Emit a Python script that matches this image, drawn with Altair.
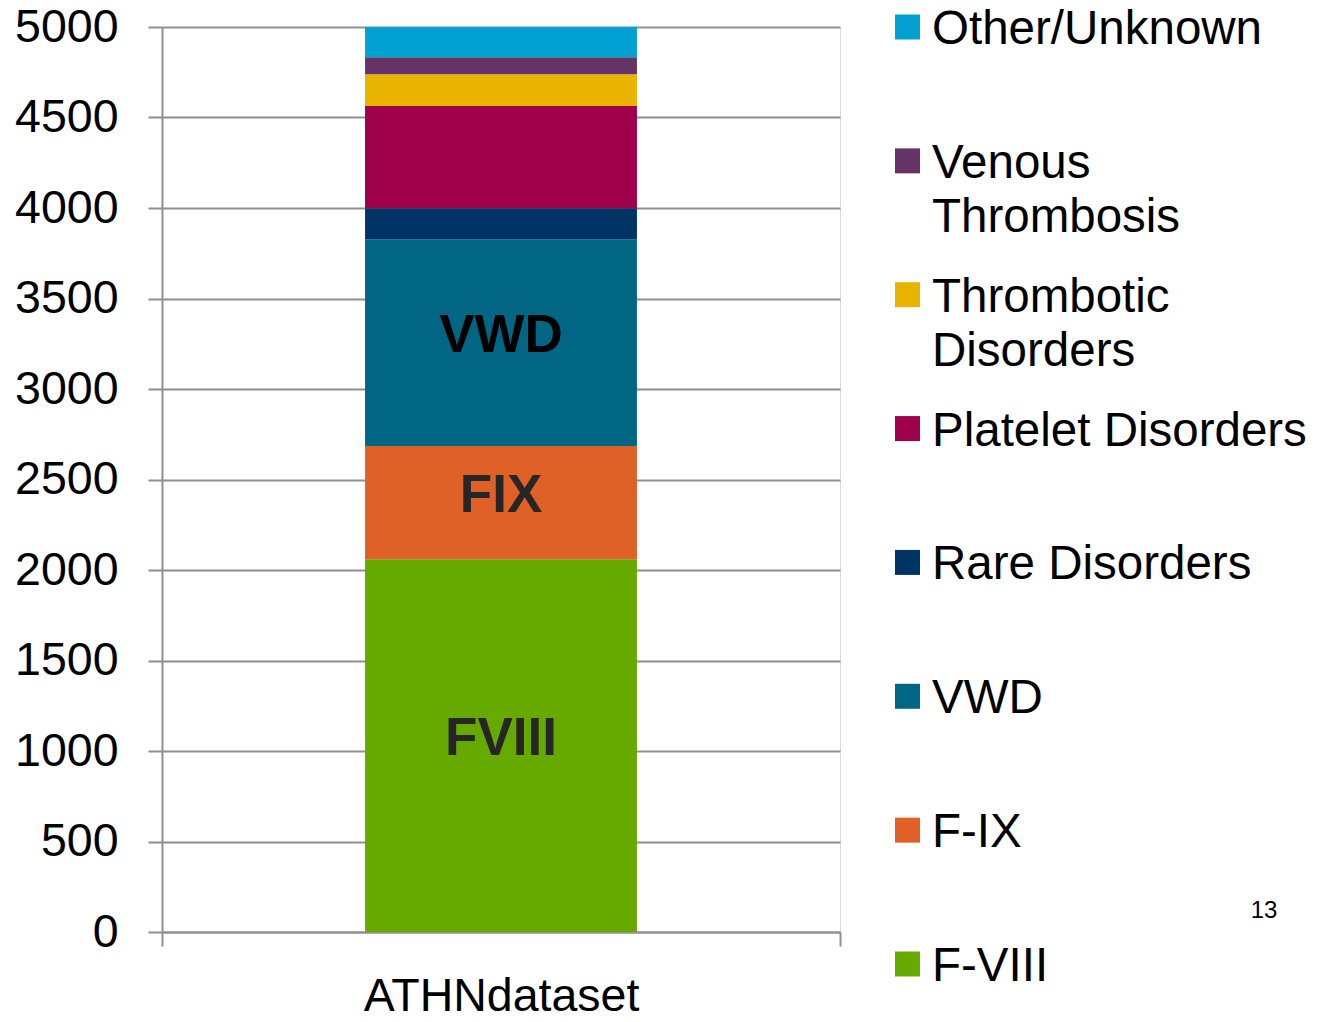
import altair as alt
import pandas as pd

# ---- data ----
dataset = ["ATHNdataset"]
categories = ["F-VIII", "F-IX", "VWD", "Rare Disorders", "Platelet Disorders",
              "Thrombotic Disorders", "Venous Thrombosis", "Other/Unknown"]
values = [2059, 626, 1142, 171, 566, 175, 94, 167]
colors = ["#66AA00", "#E06127", "#006683", "#003366", "#9E004A",
          "#E8B400", "#663366", "#00A0D2"]
segment_labels = ["FVIII", "FIX", "VWD", "", "", "", "", ""]
segment_label_colors = ["#262626", "#262626", "#000000", "#000000", "#000000",
                        "#000000", "#000000", "#000000"]
legend_line1 = ["F-VIII", "F-IX", "VWD", "Rare Disorders", "Platelet Disorders",
                "Thrombotic", "Venous", "Other/Unknown"]
legend_line2 = ["", "", "", "", "", "Disorders", "Thrombosis", ""]
y_ticks = [0, 500, 1000, 1500, 2000, 2500, 3000, 3500, 4000, 4500, 5000]
slide_number = ["13"]

FONT = "Liberation Sans"
GRID = "#8F8F8F"

df = pd.DataFrame({
    "dataset": dataset * len(categories),
    "category": categories,
    "value": values,
    "idx": list(range(len(categories))),
    "seg": segment_labels,
    "segcolor": segment_label_colors,
    "l1": legend_line1,
    "l2": legend_line2,
})

color_scale = alt.Scale(domain=categories, range=colors)
y_scale = alt.Scale(domain=[0, 5000], nice=False)
x_enc = alt.X("dataset:N", scale=alt.Scale(paddingInner=0, paddingOuter=0),
              axis=alt.Axis(title=None, labelAngle=0, tickBand="extent", tickSize=14,
                            tickColor=GRID, tickWidth=2, domainColor=GRID, domainWidth=2,
                            labelFontSize=46.5, labelColor="#000000", labelFont=FONT,
                            labelPadding=27, labelLimit=0))

base = alt.Chart(df).transform_stack(
    stack="value", groupby=["dataset"], as_=["y0", "y1"],
    sort=[alt.SortField("idx", order="ascending")]
).transform_calculate(mid="(datum.y0 + datum.y1) / 2")

y_axis = alt.Axis(title=None, values=y_ticks, format="d", grid=True, gridColor=GRID,
                  gridWidth=2, tickSize=14, tickColor=GRID, tickWidth=2, domainColor=GRID,
                  domainWidth=2, labelFontSize=46.5, labelColor="#000000",
                  labelFont=FONT, labelPadding=30, labelLimit=0)

bars = base.mark_bar(width=alt.RelativeBandSize(0.401)).encode(
    x=x_enc,
    y=alt.Y("y0:Q", scale=y_scale, axis=y_axis),
    y2="y1:Q",
    color=alt.Color("category:N", scale=color_scale, legend=None),
)

seg_text = base.mark_text(font=FONT, fontWeight="bold", fontSize=53, baseline="middle",
                          align="center", dy=-7).encode(
    x=alt.X("dataset:N"),
    y=alt.Y("mid:Q", scale=y_scale, axis=y_axis),
    text="seg:N",
    color=alt.Color("segcolor:N", scale=None),
)

main = alt.layer(bars, seg_text)

legend_order = categories[::-1]
leg_y = alt.Y("category:N", scale=alt.Scale(domain=legend_order, range=[0, 937], padding=0),
              axis=None)
leg_base = alt.Chart(df)
leg_sq = leg_base.mark_square(size=625, opacity=1).encode(
    x=alt.value(745.5), y=leg_y,
    color=alt.Color("category:N", scale=color_scale, legend=None),
)
leg_t1 = leg_base.mark_text(font=FONT, fontSize=47.5, align="left", baseline="middle",
                            color="#000000", dy=3).encode(
    x=alt.value(770), y=leg_y, text="l1:N")
leg_t2 = leg_base.mark_text(font=FONT, fontSize=47.5, align="left", baseline="middle",
                            color="#000000", dy=57).encode(
    x=alt.value(770), y=leg_y, text="l2:N")
legend = alt.layer(leg_sq, leg_t1, leg_t2)

num = alt.Chart(pd.DataFrame({"t": slide_number})).mark_text(
    font=FONT, fontSize=24, align="center", baseline="middle", color="#000000"
).encode(text="t:N", x=alt.value(1102), y=alt.value(883.5))

chart = alt.layer(main, legend, num).resolve_scale(y="independent").properties(
    width=678, height=905,
    autosize=alt.AutoSizeParams(type="none"),
    padding={"left": 154, "top": 19, "right": 480, "bottom": 82},
).configure_view(strokeWidth=0, stroke="transparent").configure(font=FONT)

chart.save("out.html", embed_options={"renderer": "svg", "actions": False})
